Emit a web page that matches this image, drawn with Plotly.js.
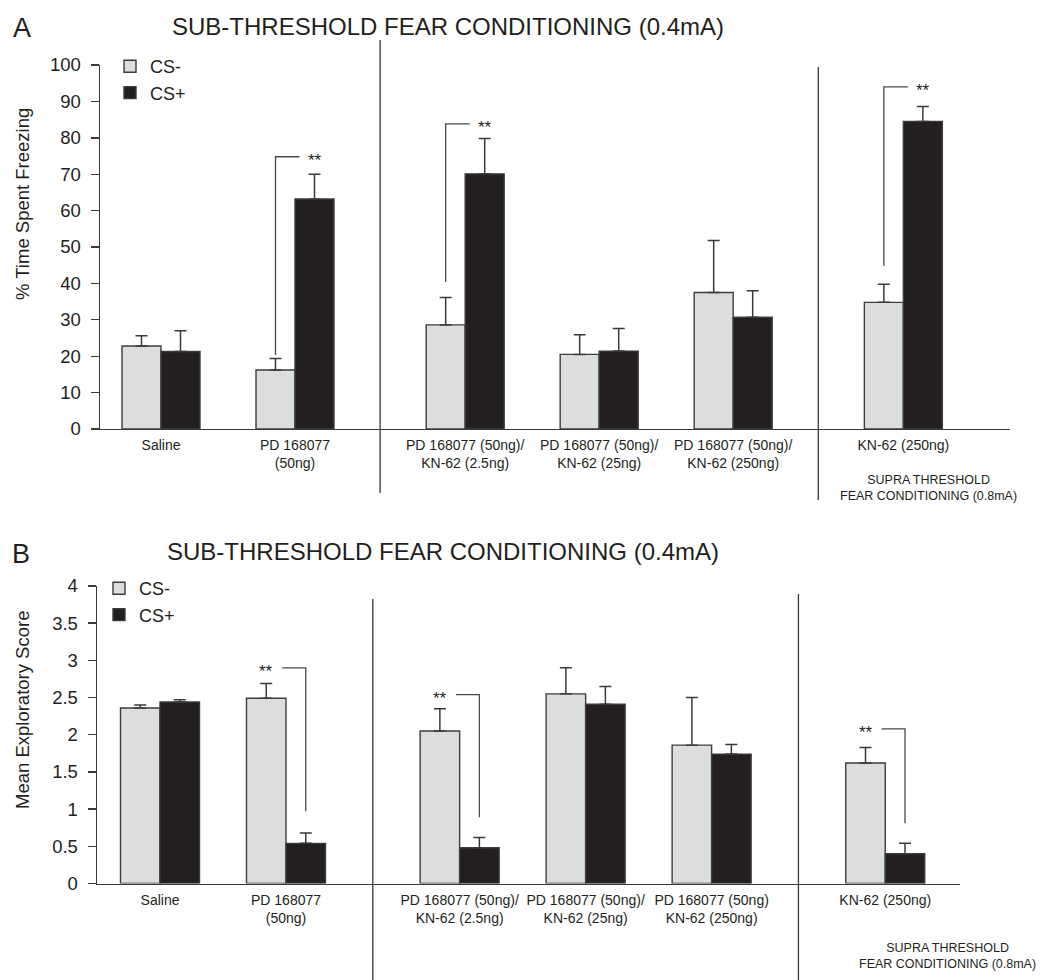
<!DOCTYPE html>
<html>
<head>
<meta charset="utf-8">
<script src="https://cdn.plot.ly/plotly-3.0.1.min.js"></script>
<style>html,body{margin:0;padding:0;background:#fff;}#chart{width:1047px;height:980px;}</style>
</head>
<body>
<div id="chart"></div>
<script>
// ---------- DATA ----------
const groupsA = ['Saline', 'PD 168077<br>(50ng)', 'PD 168077 (50ng)/<br>KN-62 (2.5ng)', 'PD 168077 (50ng)/<br>KN-62 (25ng)', 'PD 168077 (50ng)/<br>KN-62 (250ng)', 'KN-62 (250ng)'];
const groupsB = ['Saline', 'PD 168077<br>(50ng)', 'PD 168077 (50ng)/<br>KN-62 (2.5ng)', 'PD 168077 (50ng)/<br>KN-62 (25ng)', 'PD 168077 (50ng)<br>KN-62 (250ng)', 'KN-62 (250ng)'];
const block = [0, 0, 1, 1, 1, 2]; // conditioning block each group belongs to

// Panel A: % time spent freezing
const freezeCSminus    = [22.8, 16.2, 28.6, 20.5, 37.5, 34.8];
const freezeCSminusErr = [2.8, 3.2, 7.5, 5.4, 14.3, 5.0];
const freezeCSplus     = [21.3, 63.2, 70.1, 21.4, 30.7, 84.5];
const freezeCSplusErr  = [5.7, 6.8, 9.7, 6.2, 7.3, 4.1];

// Panel B: mean exploratory score
const exploreCSminus    = [2.36, 2.49, 2.05, 2.55, 1.86, 1.62];
const exploreCSminusErr = [0.04, 0.20, 0.30, 0.35, 0.64, 0.21];
const exploreCSplus     = [2.44, 0.54, 0.48, 2.41, 1.74, 0.40];
const exploreCSplusErr  = [0.03, 0.14, 0.14, 0.24, 0.13, 0.14];

// Significance brackets (group index, bracket top, bracket bottom)
const sigGroupsA = [1, 2, 5];
const sigTopA    = [74.8, 83.8, 94.0];
const sigBottomA = [20.3, 40.4, 44.8];
const sigGroupsB = [1, 2, 5];
const sigTopB    = [2.90, 2.54, 2.08];
const sigBottomB = [0.97, 0.89, 0.81];

// ---------- LAYOUT HELPERS ----------
const W = 1047, H = 980;
const FONT = 'Liberation Sans, Arial, Helvetica, sans-serif';
const INK = '#231f20';
const fx = p => p / W;
const fy = p => 1 - p / H;

// panel geometry (pixels)
const A = {axisL: 100, axisR: 1010, y0: 429, yTop: 65, first: 161, unit: 134, gap: 0.27, barPx: 39};
const B = {axisL: 97,  axisR: 960,  y0: 883.5, yTop: 586, first: 160, unit: 126, gap: 0.378, barPx: 39.5};

function xpos(P) { return block.map((b, i) => i + P.gap * b); }
function xrange(P) {
  const left = -(P.first - P.axisL) / P.unit;
  return [left, left + (P.axisR - P.axisL) / P.unit];
}
const xsA = xpos(A), xsB = xpos(B);
const wA = A.barPx / A.unit, wB = B.barPx / B.unit;
const zeros = groupsA.map(() => 0);

function barTrace(name, xs, ys, err, w, offset, fill, xa, ya, legend, showlegend) {
  return {
    type: 'bar', name: name, x: xs, y: ys, width: w, offset: offset,
    xaxis: xa, yaxis: ya, legend: legend, showlegend: showlegend,
    marker: {color: fill, line: {color: '#3d3d3d', width: 1.4}},
    error_y: {type: 'data', symmetric: false, array: err, arrayminus: zeros,
              color: '#3a3a3a', thickness: 1.5, width: 6},
    hoverinfo: 'y'
  };
}

const data = [
  barTrace('CS-', xsA, freezeCSminus, freezeCSminusErr, wA, -wA, '#dcdddf', 'x', 'y', 'legend', true),
  barTrace('CS+', xsA, freezeCSplus,  freezeCSplusErr,  wA, 0,   INK,       'x', 'y', 'legend', true),
  barTrace('CS-', xsB, exploreCSminus, exploreCSminusErr, wB, -wB, '#dcdddf', 'x2', 'y2', 'legend2', true),
  barTrace('CS+', xsB, exploreCSplus,  exploreCSplusErr,  wB, 0,   INK,       'x2', 'y2', 'legend2', true)
];

const shapes = [];
const annotations = [];
const lineStyle = {color: '#4a4a4a', width: 1.3};

// section dividers
function divider(xref, xs, i, top, bottom) {
  shapes.push({type: 'line', xref: xref, yref: 'paper',
    x0: (xs[i] + xs[i + 1]) / 2, x1: (xs[i] + xs[i + 1]) / 2,
    y0: fy(bottom), y1: fy(top), line: {color: '#3a3a3a', width: 1.3}});
}
divider('x', xsA, 1, 40, 493);
divider('x', xsA, 4, 67, 500);
divider('x2', xsB, 1, 599, 980);
divider('x2', xsB, 4, 594, 980);

// significance brackets
sigGroupsA.forEach((g, k) => {
  const xl = xsA[g] - wA / 2, xr = xsA[g] + wA / 2;
  const xe = xr - 15 / A.unit;
  shapes.push({type: 'path', xref: 'x', yref: 'y',
    path: `M${xl},${sigBottomA[k]} L${xl},${sigTopA[k]} L${xe},${sigTopA[k]}`, line: lineStyle});
  annotations.push({xref: 'x', yref: 'y', x: xr, y: sigTopA[k], text: '**', showarrow: false,
    yshift: -4, font: {family: FONT, size: 17, color: INK}});
});
sigGroupsB.forEach((g, k) => {
  const xl = xsB[g] - wB / 2, xr = xsB[g] + wB / 2;
  const xs = xl + 16 / B.unit;
  shapes.push({type: 'path', xref: 'x2', yref: 'y2',
    path: `M${xs},${sigTopB[k]} L${xr},${sigTopB[k]} L${xr},${sigBottomB[k]}`, line: lineStyle});
  annotations.push({xref: 'x2', yref: 'y2', x: xl, y: sigTopB[k], text: '**', showarrow: false,
    yshift: -4, font: {family: FONT, size: 17, color: INK}});
});

// panel letters, titles, axis titles, supra notes
function txt(text, x, y, size, extra) {
  annotations.push(Object.assign({xref: 'paper', yref: 'paper', x: fx(x), y: fy(y), text: text,
    showarrow: false, font: {family: FONT, size: size, color: INK}}, extra || {}));
}
txt('A', 11, 28, 27, {xanchor: 'left', yanchor: 'middle'});
txt('B', 10, 554, 27, {xanchor: 'left', yanchor: 'middle'});
txt('SUB-THRESHOLD FEAR CONDITIONING (0.4mA)', 170, 27, 24, {xanchor: 'left', yanchor: 'middle'});
txt('SUB-THRESHOLD FEAR CONDITIONING (0.4mA)', 165, 551, 24, {xanchor: 'left', yanchor: 'middle'});
txt('% Time Spent Freezing', 22, 204, 18.5, {textangle: -90, xanchor: 'center', yanchor: 'middle'});
txt('Mean Exploratory Score', 22, 710, 18.5, {textangle: -90, xanchor: 'center', yanchor: 'middle'});
txt('SUPRA THRESHOLD<br>FEAR CONDITIONING (0.8mA)', 928, 488, 12.5, {xanchor: 'center', yanchor: 'middle'});
txt('SUPRA THRESHOLD<br>FEAR CONDITIONING (0.8mA)', 947, 956, 12.5, {xanchor: 'center', yanchor: 'middle'});

function xaxis(P, xs, labels, yanchor) {
  return {domain: [fx(P.axisL), fx(P.axisR)], range: xrange(P), anchor: yanchor,
    showline: true, linecolor: '#3a3a3a', linewidth: 1.4, ticks: '', showgrid: false, zeroline: false,
    tickmode: 'array', tickvals: xs, ticktext: labels, ticklabelstandoff: 3,
    tickfont: {family: FONT, size: 14, color: INK}, fixedrange: true, automargin: false};
}
function yaxis(P, range, dtick, xanchor) {
  return {domain: [fy(P.y0), fy(P.yTop)], range: range, dtick: dtick, anchor: xanchor,
    showline: true, linecolor: '#3a3a3a', linewidth: 1.4, ticks: 'outside', ticklen: 8, tickwidth: 1.4,
    tickcolor: '#3a3a3a', showgrid: false, zeroline: false, ticklabelstandoff: 6,
    tickfont: {family: FONT, size: 18.5, color: INK}, fixedrange: true, automargin: false};
}

const legendStyle = {font: {family: FONT, size: 18, color: INK}, bgcolor: 'rgba(0,0,0,0)',
  xanchor: 'left', yanchor: 'top', tracegroupgap: 0, itemwidth: 30, traceorder: 'normal'};

const layout = {
  width: W, height: H,
  margin: {l: 0, r: 0, t: 0, b: 0},
  paper_bgcolor: '#fff', plot_bgcolor: 'rgba(0,0,0,0)',
  font: {family: FONT, color: INK},
  barmode: 'overlay',
  xaxis: xaxis(A, xsA, groupsA, 'y'),
  yaxis: yaxis(A, [0, 100], 10, 'x'),
  xaxis2: xaxis(B, xsB, groupsB, 'y2'),
  yaxis2: yaxis(B, [0, 4], 0.5, 'x2'),
  legend: Object.assign({x: fx(110), y: fy(48)}, legendStyle),
  legend2: Object.assign({x: fx(99), y: fy(570)}, legendStyle),
  shapes: shapes,
  annotations: annotations
};

Plotly.newPlot('chart', data, layout, {displayModeBar: false, staticPlot: true});
</script>
</body>
</html>
